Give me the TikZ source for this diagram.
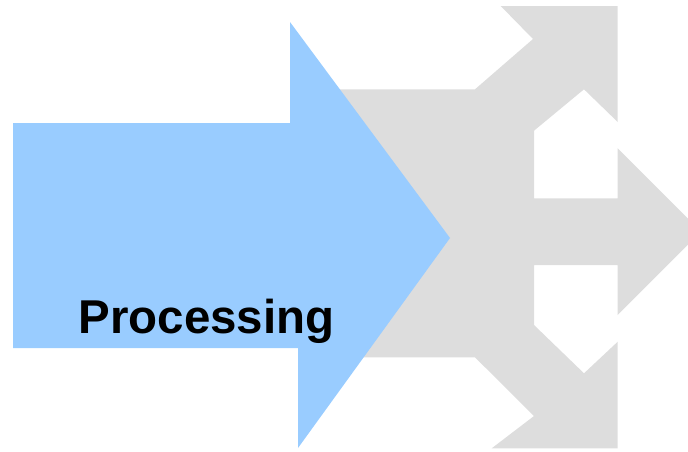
\documentclass[tikz,border=0pt]{standalone}
\usepackage{fontspec}
\setmainfont{Liberation Sans}
\tikzset{every picture/.style={line width=0.75pt}}
\definecolor{procblue}{RGB}{153,204,255}
\definecolor{fangray}{RGB}{221,221,221}

\begin{document}
\begin{tikzpicture}[x=0.75pt,y=0.75pt,yscale=-1,xscale=1]
%set diagram left start at 0, and has height of 451
\useasboundingbox (0,0) rectangle (688,451);
\clip (0,0) rectangle (688,451);

%Shape: Fan of arrows
\fill [fangray] (330,89.3) -- (475,89.3) -- (533,39) -- (500.7,6) -- (617.7,6) -- (617.7,122) -- (584,89.3) -- (534,130.7) -- (534,198.3) -- (617.7,198.3) -- (617.7,148.3) -- (701,231.7) -- (617.7,315) -- (617.7,265) -- (534,265) -- (534,325) -- (584,373.3) -- (617.7,341.7) -- (617.7,448.3) -- (491.7,448.3) -- (534,416) -- (475,357.3) -- (330,357.3) -- cycle ;

%Shape: Right Arrow
\fill [procblue] (13,123) -- (290,123) -- (290,22) -- (450,238) -- (298,448) -- (298,348) -- (13,348) -- cycle ;

% Text Node
\draw (78,333.3) node (proc) [anchor=base west, inner sep=0pt] {\fontsize{35.6}{40}\selectfont\bfseries Processing};

\end{tikzpicture}
\end{document}
